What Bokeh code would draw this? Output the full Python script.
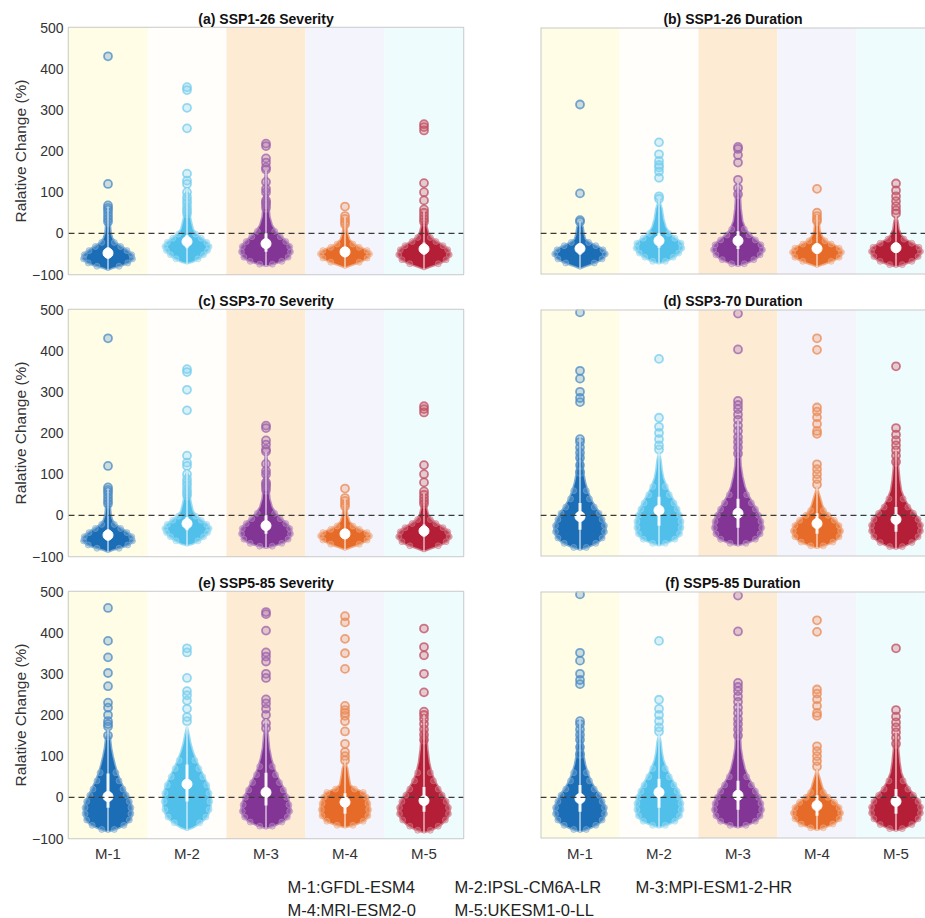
import numpy as np
from bokeh.plotting import figure
from bokeh.layouts import column, row
from bokeh.models import Range1d, FixedTicker, Span
from bokeh.embed import file_html
from bokeh.resources import INLINE
from bokeh.core.properties import value

# ---------------- data ----------------
MODELS = ["M-1", "M-2", "M-3", "M-4", "M-5"]
MODEL_NAMES = ["GFDL-ESM4", "IPSL-CM6A-LR", "MPI-ESM1-2-HR", "MRI-ESM2-0", "UKESM1-0-LL"]
Y_TICKS = [-100, 0, 100, 200, 300, 400, 500]
Y_LABEL = "Ralative Change (%)"
TITLES = ["(a) SSP1-26 Severity", "(b) SSP1-26 Duration",
          "(c) SSP3-70 Severity", "(d) SSP3-70 Duration",
          "(e) SSP5-85 Severity", "(f) SSP5-85 Duration"]

COLORS = ["#0f66b2", "#47bdea", "#7b2b90", "#e5631c", "#b0122c"]
BANDS = ["#fffde6", "#fffefa", "#fdebd4", "#f4f5fc", "#eefcfe"]

# Severity SSP1-26 (panel a) -- violin outlines as (value, half-width) pairs
SEV126_MED = [-48, -20, -25, -45, -38]
SEV126_Q1 = [-62, -36, -45, -58, -52]
SEV126_Q3 = [-34, -4, 0, -33, -22]
SEV126_PROF = [
    [(-90, 0), (-85, .06), (-80, .16), (-72, .27), (-62, .33), (-52, .32), (-42, .26), (-32, .18),
     (-22, .10), (-12, .06), (0, .04), (20, .03), (45, .02), (65, 0)],
    [(-74, 0), (-70, .07), (-62, .16), (-52, .23), (-42, .28), (-32, .30), (-22, .27), (-12, .20),
     (-2, .13), (10, .08), (25, .06), (45, .04), (70, .025), (100, .015), (110, 0)],
    [(-80, 0), (-75, .10), (-68, .22), (-58, .30), (-45, .33), (-32, .32), (-20, .27), (-8, .20),
     (5, .13), (20, .08), (40, .05), (70, .035), (100, .025), (140, .015), (155, 0)],
    [(-84, 0), (-78, .08), (-70, .20), (-60, .30), (-50, .33), (-42, .30), (-34, .20), (-26, .12),
     (-15, .06), (0, .035), (20, .02), (40, 0)],
    [(-88, 0), (-82, .08), (-74, .20), (-64, .30), (-52, .34), (-40, .32), (-30, .26), (-20, .17),
     (-10, .10), (0, .06), (15, .04), (35, .02), (55, 0)],
]
SEV126_OUT = [
    [430, 120, 68, 62, 57, 50, 42, 35, 28],
    [355, 348, 305, 255, 145, 128, 120, 100, 88, 80, 72, 62, 55, 48],
    [218, 212, 182, 172, 160, 155, 125, 108, 100, 80, 75, 70, 62],
    [65, 42, 35, 28, 22],
    [265, 258, 250, 122, 100, 80, 58, 50, 42, 35, 28],
]

# Duration SSP1-26 (panel b)
DUR126_MED = [-37, -18, -18, -37, -35]
DUR126_Q1 = [-52, -35, -38, -50, -48]
DUR126_Q3 = [-25, 0, 5, -25, -22]
DUR126_PROF = [
    [(-86, 0), (-80, .08), (-72, .20), (-62, .30), (-50, .34), (-40, .31), (-30, .22), (-22, .13),
     (-14, .07), (0, .05), (15, .04), (30, 0)],
    [(-74, 0), (-68, .10), (-58, .20), (-48, .27), (-36, .31), (-24, .30), (-12, .22), (0, .14),
     (15, .09), (35, .06), (60, .04), (85, 0)],
    [(-80, 0), (-74, .10), (-64, .22), (-52, .30), (-40, .33), (-28, .31), (-16, .24), (-4, .16),
     (10, .10), (30, .06), (60, .04), (95, .03), (125, 0)],
    [(-82, 0), (-76, .08), (-68, .20), (-58, .30), (-46, .33), (-36, .30), (-26, .20), (-18, .12),
     (-8, .07), (5, .04), (25, .03), (45, 0)],
    [(-82, 0), (-76, .10), (-68, .22), (-56, .30), (-44, .33), (-34, .31), (-24, .22), (-14, .12),
     (-4, .07), (10, .04), (30, .025), (45, 0)],
]
DUR126_OUT = [
    [313, 97, 32, 28],
    [221, 192, 176, 166, 160, 150, 135, 90, 84],
    [210, 205, 190, 172, 130, 110, 95],
    [108, 50, 42, 35, 30],
    [121, 104, 90, 78, 66, 56, 48],
]

# Severity SSP3-70 (panel c) -- identical to panel a in the source figure
SEV370_MED = list(SEV126_MED)
SEV370_Q1 = list(SEV126_Q1)
SEV370_Q3 = list(SEV126_Q3)
SEV370_PROF = [list(p) for p in SEV126_PROF]
SEV370_OUT = [list(o) for o in SEV126_OUT]

# Duration SSP3-70 (panel d)
DUR370_MED = [-3, 12, 5, -20, -10]
DUR370_Q1 = [-35, -25, -30, -45, -40]
DUR370_Q3 = [30, 45, 40, 5, 20]
DUR370_PROF = [
    [(-84, 0), (-78, .10), (-68, .22), (-55, .30), (-40, .33), (-25, .33), (-10, .30), (5, .26),
     (20, .20), (40, .14), (60, .10), (80, .07), (100, .05), (130, .035), (160, .025), (190, 0)],
    [(-74, 0), (-68, .10), (-58, .22), (-45, .28), (-30, .30), (-15, .30), (0, .28), (15, .25),
     (30, .21), (50, .15), (70, .10), (90, .06), (110, .04), (135, .025), (155, 0)],
    [(-74, 0), (-68, .12), (-58, .24), (-45, .30), (-30, .32), (-15, .31), (0, .28), (15, .24),
     (30, .19), (50, .13), (70, .09), (95, .06), (120, .04), (160, .03), (200, .02), (230, 0)],
    [(-80, 0), (-74, .10), (-65, .22), (-52, .30), (-38, .32), (-25, .30), (-12, .24), (0, .16),
     (12, .10), (25, .07), (45, .04), (70, 0)],
    [(-82, 0), (-76, .10), (-66, .22), (-52, .30), (-38, .33), (-24, .33), (-10, .30), (5, .24),
     (20, .17), (40, .11), (60, .07), (85, .05), (115, .035), (140, .025), (160, 0)],
]
DUR370_OUT = [
    [493, 351, 332, 300, 285, 275, 185, 178, 165, 152, 140, 122, 105],
    [380, 237, 215, 200, 185, 170, 160],
    [490, 403, 278, 268, 258, 245, 232, 218, 205, 190, 178, 165, 150],
    [430, 402, 262, 252, 238, 222, 205, 198, 124, 112, 100, 88, 75],
    [362, 212, 196, 182, 170, 158, 145, 130],
]

# Severity SSP5-85 (panel e)
SEV585_MED = [2, 32, 12, -12, -8]
SEV585_Q1 = [-25, -10, -20, -40, -35]
SEV585_Q3 = [58, 80, 60, 10, 25]
SEV585_PROF = [
    [(-84, 0), (-78, .10), (-68, .22), (-55, .29), (-40, .31), (-25, .31), (-10, .29), (5, .25),
     (20, .21), (40, .16), (60, .12), (80, .09), (100, .065), (120, .045), (145, .03), (165, 0)],
    [(-80, 0), (-74, .08), (-62, .18), (-48, .26), (-30, .30), (-10, .31), (10, .30), (30, .27),
     (50, .22), (70, .17), (90, .12), (110, .08), (130, .05), (150, .03), (175, 0)],
    [(-76, 0), (-70, .10), (-60, .22), (-48, .29), (-34, .32), (-18, .31), (0, .28), (18, .24),
     (36, .19), (55, .14), (75, .10), (95, .07), (120, .045), (150, .03), (190, 0)],
    [(-74, 0), (-68, .12), (-58, .25), (-45, .31), (-30, .32), (-15, .31), (0, .29), (12, .25),
     (20, .14), (30, .07), (50, .05), (70, .035), (90, 0)],
    [(-86, 0), (-80, .10), (-70, .20), (-55, .29), (-40, .33), (-25, .33), (-10, .30), (5, .25),
     (20, .20), (40, .14), (60, .10), (85, .07), (115, .05), (150, .035), (200, 0)],
]
SEV585_OUT = [
    [460, 380, 340, 302, 270, 230, 218, 200, 185, 178, 172, 150],
    [362, 352, 290, 258, 248, 235, 215, 195, 185],
    [450, 445, 405, 352, 342, 330, 300, 290, 238, 228, 215, 200, 180, 168],
    [440, 425, 385, 350, 312, 222, 212, 205, 198, 185, 160, 130, 110, 100, 90],
    [410, 365, 345, 300, 255, 208, 200, 190, 178, 165, 152, 140],
]

# Duration SSP5-85 (panel f) -- identical to panel d in the source figure
DUR585_MED = list(DUR370_MED)
DUR585_Q1 = list(DUR370_Q1)
DUR585_Q3 = list(DUR370_Q3)
DUR585_PROF = [list(p) for p in DUR370_PROF]
DUR585_OUT = [list(o) for o in DUR370_OUT]

PANELS = [
    (SEV126_MED, SEV126_Q1, SEV126_Q3, SEV126_PROF, SEV126_OUT),
    (DUR126_MED, DUR126_Q1, DUR126_Q3, DUR126_PROF, DUR126_OUT),
    (SEV370_MED, SEV370_Q1, SEV370_Q3, SEV370_PROF, SEV370_OUT),
    (DUR370_MED, DUR370_Q1, DUR370_Q3, DUR370_PROF, DUR370_OUT),
    (SEV585_MED, SEV585_Q1, SEV585_Q3, SEV585_PROF, SEV585_OUT),
    (DUR585_MED, DUR585_Q1, DUR585_Q3, DUR585_PROF, DUR585_OUT),
]

# ---------------- drawing ----------------
FONT = "Liberation Sans"
Y_MIN, Y_MAX = -100, 500
CAT_PX = 79.0   # pixel width of one model band


def tint(hexcol, f):
    h = hexcol.lstrip("#")
    r, g, b = (int(h[i:i + 2], 16) for i in (0, 2, 4))
    r, g, b = (int(c + (255 - c) * f) for c in (r, g, b))
    return "#%02x%02x%02x" % (r, g, b)


def make_panel(idx):
    med, q1, q3, prof, outl = PANELS[idx]
    left = idx % 2 == 0
    rown = idx // 2
    bottom_row = rown == 2
    top_border = [27, 19, 20][rown]
    if left:
        fw, mbl, mbr = 395, 68, 7
    else:
        fw, mbl, mbr = 385, 70, 0
    x_end = 0.5 + fw / CAT_PX
    p = figure(x_range=Range1d(0.5, x_end), y_range=Range1d(Y_MIN, Y_MAX),
               frame_width=fw, frame_height=247,
               min_border_left=mbl, min_border_right=mbr, min_border_top=top_border,
               min_border_bottom=30 if bottom_row else 15,
               output_backend="svg", toolbar_location=None)
    p.grid.visible = False
    p.background_fill_color = "white"
    p.border_fill_color = "white"
    if left:
        p.outline_line_color = "#c9c9c9"
        p.outline_line_width = 1.5
    else:
        p.outline_line_color = None

    # title
    p.title.text = TITLES[idx]
    p.title.align = "center"
    p.title.text_font = FONT
    p.title.text_font_size = "14px"
    p.title.text_font_style = "bold"
    p.title.text_color = "#111111"
    p.title.standoff = 2
    if not left:
        p.title.offset = 3.0 * CAT_PX - fw / 2.0 - 0.5 * CAT_PX

    cats = list(range(1, len(MODELS) + 1))
    # background bands
    p.vbar(x=cats, width=1.0, bottom=Y_MIN, top=Y_MAX, fill_color=BANDS, line_color=None)

    if not left:
        for loc, dim in ((0.5, "height"), (Y_MAX, "width"), (Y_MIN, "width")):
            p.add_layout(Span(location=loc, dimension=dim, line_color="#c9c9c9", line_width=2))

    # zero line
    p.add_layout(Span(location=0, dimension="width", line_color="#3a3a3a",
                      line_dash="6 4", line_width=1.3, level="overlay"))

    for i, c in enumerate(cats):
        col = COLORS[i]
        light = tint(col, 0.45)
        pr = prof[i]
        ys = [v for v, w in pr]
        ws = [w for v, w in pr]
        xs = [c + w for w in ws] + [c - w for w in ws[::-1]]
        yy = ys + ys[::-1]
        p.patch(x=xs, y=yy, fill_color=col, fill_alpha=0.95,
                line_color=light, line_width=1.6, line_alpha=0.9)
        # points on the violin rim
        ex, ey = [], []
        for v, w in pr:
            if w >= 0.1:
                ex += [c + w - 0.02, c - w + 0.02]
                ey += [v, v]
        p.scatter(x=ex, y=ey, size=6, fill_color=light, fill_alpha=0.4,
                  line_color=light, line_alpha=0.55)
        # outliers
        ov = outl[i]
        p.scatter(x=[c] * len(ov), y=ov, size=8, fill_color=tint(col, 0.3), fill_alpha=0.3,
                  line_color=tint(col, 0.25), line_alpha=0.75, line_width=1.8)
        # whisker, box, median
        p.segment(x0=[c], y0=[min(ys)], x1=[c], y1=[max(ys)], line_color="white",
                  line_width=1.2, line_alpha=0.85)
        p.segment(x0=[c], y0=[q1[i]], x1=[c], y1=[q3[i]], line_color="white",
                  line_width=3.0, line_alpha=0.9)
        p.scatter(x=[c], y=[med[i]], size=10, fill_color="white", line_color="white")

    # y axis
    if left:
        ya = p.yaxis[0]
        ya.ticker = FixedTicker(ticks=Y_TICKS)
        ya.minor_tick_line_color = None
        ya.major_tick_line_color = None
        ya.major_tick_out = 0
        ya.major_tick_in = 0
        ya.axis_line_color = None
        ya.major_label_text_font = FONT
        ya.major_label_text_font_size = "14px"
        ya.major_label_text_color = "#333333"
        ya.major_label_standoff = 5
        ya.axis_label = Y_LABEL
        ya.axis_label_text_font = FONT
        ya.axis_label_text_font_size = "15.5px"
        ya.axis_label_text_font_style = "normal"
        ya.axis_label_text_color = "#333333"
        ya.axis_label_standoff = 0
    else:
        p.yaxis.visible = False

    # x axis
    if bottom_row:
        xa = p.xaxis[0]
        xa.ticker = FixedTicker(ticks=cats)
        xa.major_label_overrides = {c: MODELS[k] for k, c in enumerate(cats)}
        xa.minor_tick_line_color = None
        xa.major_tick_line_color = None
        xa.major_tick_out = 0
        xa.major_tick_in = 0
        xa.axis_line_color = None
        xa.major_label_text_font = FONT
        xa.major_label_text_font_size = "15px"
        xa.major_label_text_color = "#333333"
        xa.major_label_standoff = 6
    else:
        p.xaxis.visible = False
    return p


panels = [make_panel(k) for k in range(6)]

# legend of model names
LEG_W, LEG_H = 925, 51
leg = figure(width=LEG_W, height=LEG_H, x_range=Range1d(0, LEG_W), y_range=Range1d(0, LEG_H),
             min_border=0, output_backend="svg", toolbar_location=None)
leg.axis.visible = False
leg.grid.visible = False
leg.outline_line_color = None
col_x = [287, 454, 635]
row_y = [LEG_H - 18, LEG_H - 41]
lx, ly, lt = [], [], []
for k, (code, name) in enumerate(zip(MODELS, MODEL_NAMES)):
    lx.append(col_x[k % 3])
    ly.append(row_y[k // 3])
    lt.append(code + ":" + name)
leg.text(x=lx, y=ly, text=lt, text_font=value(FONT), text_font_size="16.5px",
         text_baseline="middle", text_align="left", text_color="#222222")

layout = column(row(panels[0], panels[1]), row(panels[2], panels[3]),
                row(panels[4], panels[5]), leg)

open("out.html", "w").write(file_html(layout, INLINE))
